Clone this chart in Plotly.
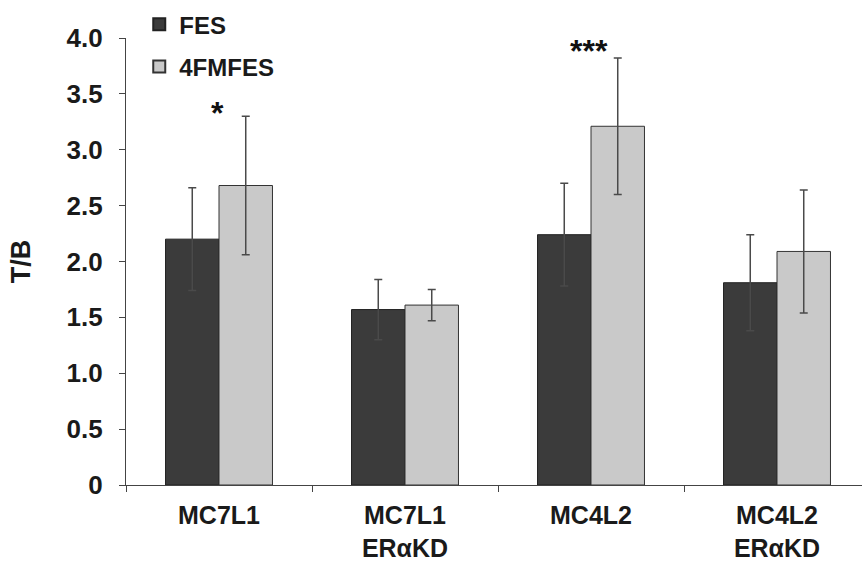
import plotly.graph_objects as go

categories = ["MC7L1", "MC7L1<br>ERαKD", "MC4L2", "MC4L2<br>ERαKD"]
fes_values = [2.20, 1.57, 2.24, 1.81]
fes_errors = [0.46, 0.27, 0.46, 0.43]
fm_values = [2.68, 1.61, 3.21, 2.09]
fm_errors = [0.62, 0.14, 0.61, 0.55]
sig_labels = ["*", "", "***", ""]
sig_y = [3.33, None, 3.88, None]
y_ticks = [0, 0.5, 1.0, 1.5, 2.0, 2.5, 3.0, 3.5, 4.0]
y_ticktext = ["0", "0.5", "1.0", "1.5", "2.0", "2.5", "3.0", "3.5", "4.0"]

FONT = "Arial, Liberation Sans, sans-serif"

fig = go.Figure()
fig.add_trace(go.Bar(
    name="FES", x=categories, y=fes_values, legendgroup="a",
    marker=dict(color="#3b3b3b", line=dict(color="#222222", width=1)),
    error_y=dict(type="data", array=fes_errors, color="#4a4a4a", thickness=1.5, width=4),
))
fig.add_trace(go.Bar(
    name="4FMFES", x=categories, y=fm_values, legendgroup="b",
    marker=dict(color="#c9c9c9", line=dict(color="#333333", width=1)),
    error_y=dict(type="data", array=fm_errors, color="#4a4a4a", thickness=1.5, width=4),
))

for i, (lab, yv) in enumerate(zip(sig_labels, sig_y)):
    if lab:
        fig.add_annotation(
            x=categories[i], y=yv, xref="x", yref="y", text=lab, showarrow=False,
            xshift=-2, font=dict(family=FONT, size=32, color="#111111", weight="bold"),
        )

fig.update_layout(
    width=862, height=564,
    margin=dict(l=126, r=0, t=38, b=79),
    paper_bgcolor="white", plot_bgcolor="white",
    barmode="group", bargap=0.425, bargroupgap=0,
    font=dict(family=FONT, size=24, color="#1a1a1a", weight="bold"),
    showlegend=True,
    legend=dict(
        x=0.018, y=1.080, xanchor="left", yanchor="top",
        bgcolor="rgba(0,0,0,0)", font=dict(size=24, weight="bold"),
        itemsizing="constant", traceorder="grouped", tracegroupgap=8,
        itemwidth=30,
    ),
    xaxis=dict(
        showline=True, linecolor="#444444", linewidth=1.2,
        ticks="outside", tickson="boundaries", ticklen=6, tickcolor="#444444",
        tickfont=dict(size=25, weight="bold"), range=[-0.5, 3.457],
        automargin=False, ticklabelstandoff=8,
    ),
    yaxis=dict(
        range=[0, 4.0], tickvals=y_ticks, ticktext=y_ticktext,
        showline=True, linecolor="#444444", linewidth=1.2,
        ticks="outside", ticklen=6, tickcolor="#444444",
        showgrid=False, zeroline=False, automargin=False,
        tickfont=dict(size=26, weight="bold"), ticklabelstandoff=11,
        title=dict(text="T/B", font=dict(size=27, weight="bold"), standoff=28),
    ),
)

fig.write_html(
    "out.html",
    config={"displayModeBar": False},
    post_script="document.body.style.margin='0';document.body.style.padding='0';",
)
